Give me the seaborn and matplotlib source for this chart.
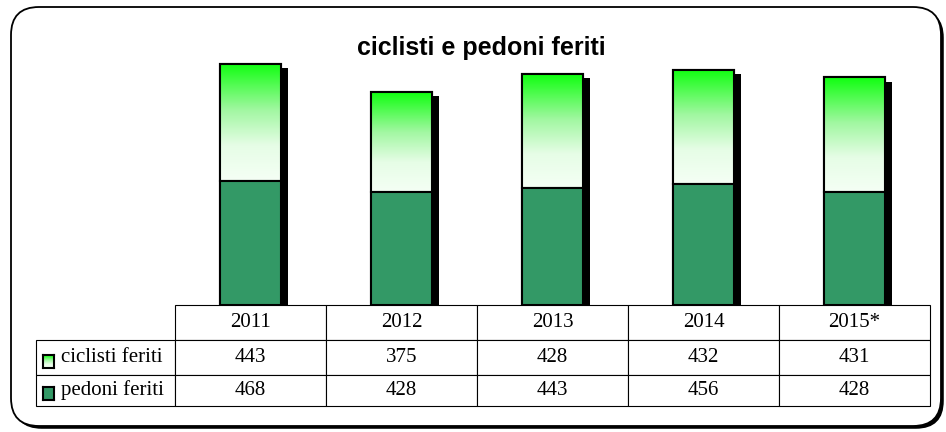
import numpy as np
import pandas as pd
import matplotlib
matplotlib.use("Agg")
import matplotlib.pyplot as plt
import matplotlib.patheffects as pe
from matplotlib.colors import LinearSegmentedColormap
from matplotlib.patches import FancyBboxPatch, Rectangle
import seaborn as sns

# dati
anni = ["2011", "2012", "2013", "2014", "2015*"]
ciclisti = [443, 375, 428, 432, 431]
pedoni = [468, 428, 443, 456, 428]
serie = ["ciclisti feriti", "pedoni feriti"]

VERDE = "#339966"
# gradiente dal basso (quasi bianco) all'alto (verde acceso)
grad = LinearSegmentedColormap.from_list(
    "verde", [(0, "#f5fff5"), (0.3, "#e6fde6"), (0.6, "#a2f7a2"), (1, "#10ff10")])

df = pd.DataFrame({"anno": anni, "ciclisti": ciclisti, "pedoni": pedoni})
df["totale"] = df.ciclisti + df.pedoni

sns.set_theme(style="white")
W, H = 946, 432
fig = plt.figure(figsize=(W / 100, H / 100), dpi=100)

# sfondo in pixel: cornice arrotondata + titolo
bg = fig.add_axes([0, 0, 1, 1])
bg.set_xlim(0, W); bg.set_ylim(H, 0); bg.axis("off")
frame = FancyBboxPatch((11, 7), 930, 419, boxstyle="round,pad=0,rounding_size=28",
                       fc="white", ec="black", lw=1.3,
                       path_effects=[pe.SimplePatchShadow(offset=(2, -2), shadow_rgbFace="black", alpha=1),
                                     pe.Normal()])
bg.add_patch(frame)
bg.text(481, 48, "ciclisti e pedoni feriti", ha="center", va="center",
        fontsize=18, fontweight="bold", family="Liberation Sans", color="black")

# grafico a barre impilate
ax = fig.add_axes([175 / W, (H - 305) / H, 755 / W, 265 / H])
ax.patch.set_alpha(0)
sns.barplot(data=df, x="anno", y="totale", color="white", width=0.4, saturation=1,
            edgecolor="black", linewidth=1.5, ax=ax)
sns.barplot(data=df, x="anno", y="pedoni", color=VERDE, width=0.4, saturation=1,
            edgecolor="black", linewidth=1.5, ax=ax)
tot_bars, ped_bars = ax.containers[0], ax.containers[1]

for tb, pb in zip(tot_bars, ped_bars):
    tb.set_zorder(1)
    tb.set_path_effects([pe.SimplePatchShadow(offset=(5, -3), shadow_rgbFace="black", alpha=1),
                         pe.Normal()])
    pb.set_zorder(3)
    x0, w = tb.get_x(), tb.get_width()
    y0, y1 = pb.get_height(), tb.get_height()
    ax.imshow(np.linspace(0, 1, 256).reshape(-1, 1), cmap=grad, origin="lower",
              extent=(x0, x0 + w, y0, y1), aspect="auto", zorder=2)
    ax.add_patch(Rectangle((x0, y0), w, y1 - y0, fill=False, ec="black", lw=1.5, zorder=2.5))

ax.set_xlim(-0.5, len(anni) - 0.5)
ax.set_ylim(0, 1000)
ax.axis("off")

# tabella dati sotto le barre: prima colonna = etichette delle serie
righe = [[serie[0]] + [str(v) for v in ciclisti],
         [serie[1]] + [str(v) for v in pedoni]]
tab = ax.table(cellText=righe, colLabels=[""] + anni, cellLoc="center",
               bbox=[-139 / 755, -101 / 265, 894 / 755, 101 / 265])
tab.auto_set_font_size(False)
tab.set_zorder(5)
row_h = {0: 35, 1: 34, 2: 31}
for (r, c), cell in tab.get_celld().items():
    cell.set_width(139 if c == 0 else 151)
    cell.set_height(row_h[r])
    cell.set_edgecolor("black")
    cell.set_linewidth(0.8)
    txt = cell.get_text()
    txt.set_fontsize(15)
    txt.set_color("black")
    txt.set_fontfamily("Liberation Serif")
    if c == 0:
        txt.set_horizontalalignment("left")
        cell.PAD = 0.18
        if r == 0:
            cell.visible_edges = ""
            cell.set_facecolor("none")

# simboli della legenda nella tabella
sw1 = fig.add_axes([43 / W, (H - 368) / H, 11 / W, 13 / H])
sw1.imshow(np.linspace(0, 1, 64).reshape(-1, 1), cmap=grad, origin="lower", aspect="auto")
sw2 = fig.add_axes([43 / W, (H - 400) / H, 11 / W, 13 / H])
sw2.set_facecolor(VERDE)
for sw in (sw1, sw2):
    sw.set_xticks([]); sw.set_yticks([])
    for s in sw.spines.values():
        s.set_visible(True); s.set_color("black"); s.set_linewidth(1.5)

fig.savefig("out.png", dpi=100)
